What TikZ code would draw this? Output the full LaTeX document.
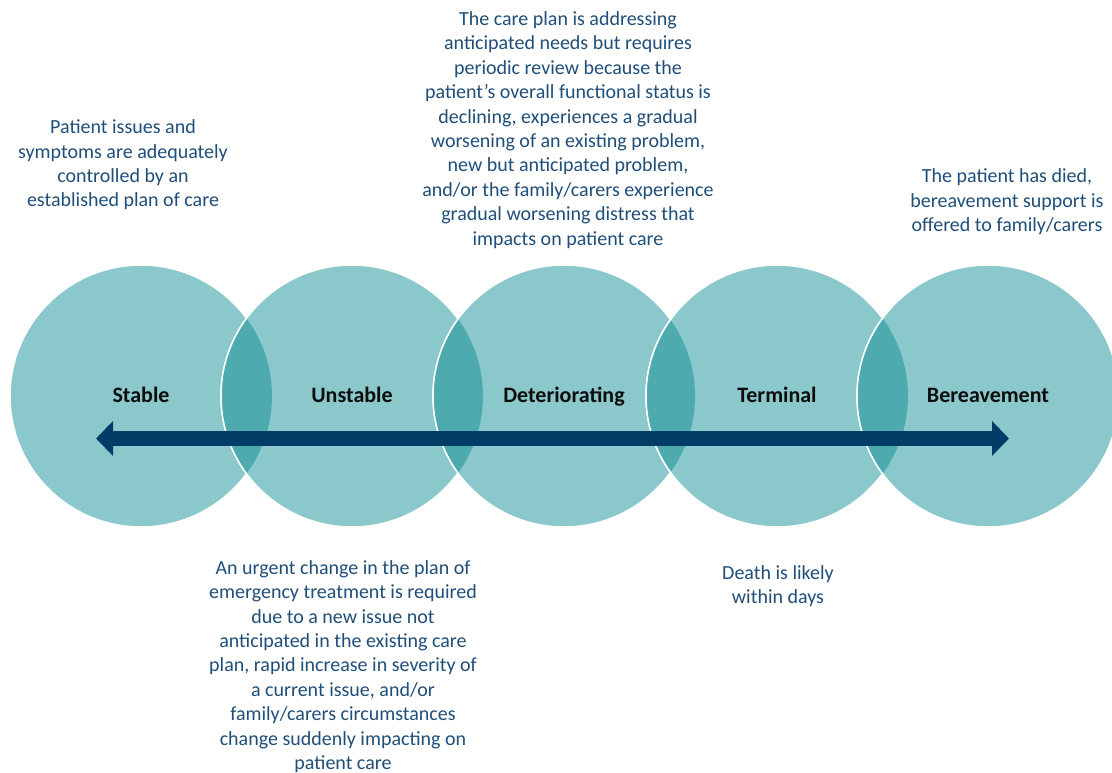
\documentclass[tikz,border=0pt]{standalone}
\usepackage{fontspec}
\setmainfont{Carlito}
\usetikzlibrary{arrows.meta}
\definecolor{phaselight}{HTML}{8BC8CB}
\definecolor{phasedark}{HTML}{4DAAAF}
\definecolor{arrownavy}{HTML}{023D67}
\definecolor{notetext}{HTML}{1F4E79}

\begin{document}
\begin{tikzpicture}[x=1pt, y=-1pt,
		phase/.style={circle,fill=phaselight,draw=white,line width=1.5pt,minimum size=262pt,inner sep=0pt,text=black!95,text height=16.5pt,text depth=3.5pt,font=\fontsize{22}{26}\selectfont\bfseries},
		overlap/.style={fill=phasedark},
		rim/.style={draw=white,line width=1.5pt},
		note/.style={align=center,text=notetext,inner sep=0pt,font=\fontsize{20}{24.4}\selectfont},
		timeline/.style={arrownavy,line width=15pt,{Triangle[length=17pt,width=34pt]}-{Triangle[length=17pt,width=34pt]}}
		]
	\useasboundingbox (0,0) rectangle (1112,773);
	% the five phases
	\node [phase] (stable) at (141,396) {Stable};
	\node [phase] (unstable) at (352,396) {Unstable};
	\node [phase] (deteriorating) at (564,396) {Deteriorating};
	\node [phase] (terminal) at (777,396) {Terminal};
	\node [phase] (bereavement) at (988,396) {Bereavement};
	% overlaps
	\begin{scope}
		\clip (stable.center) circle [radius=131pt];
		\fill [overlap] (unstable.center) circle [radius=131pt];
		\draw [rim] (unstable.center) circle [radius=131pt];
	\end{scope}
	\begin{scope}
		\clip (unstable.center) circle [radius=131pt];
		\fill [overlap] (deteriorating.center) circle [radius=131pt];
		\draw [rim] (deteriorating.center) circle [radius=131pt];
	\end{scope}
	\begin{scope}
		\clip (deteriorating.center) circle [radius=131pt];
		\fill [overlap] (terminal.center) circle [radius=131pt];
		\draw [rim] (terminal.center) circle [radius=131pt];
	\end{scope}
	\begin{scope}
		\clip (terminal.center) circle [radius=131pt];
		\fill [overlap] (bereavement.center) circle [radius=131pt];
		\draw [rim] (bereavement.center) circle [radius=131pt];
	\end{scope}
	% timeline arrow
	\coordinate (past) at (96,438.5);
	\coordinate (future) at (1009,438.5);
	\draw [timeline] (past) -- (future);
	% descriptions
	\node [note] (stablenote) at (123,165) {Patient issues and\\symptoms are adequately\\controlled by an\\established plan of care};
	\node [note] (deterioratingnote) at (568,130) {The care plan is addressing\\anticipated needs but requires\\periodic review because the\\patient’s overall functional status is\\declining, experiences a gradual\\worsening of an existing problem,\\new but anticipated problem,\\and/or the family/carers experience\\gradual worsening distress that\\impacts on patient care};
	\node [note] (bereavementnote) at (1007,202) {The patient has died,\\bereavement support is\\offered to family/carers};
	\node [note] (unstablenote) at (343,666.5) {An urgent change in the plan of\\emergency treatment is required\\due to a new issue not\\anticipated in the existing care\\plan, rapid increase in severity of\\a current issue, and/or\\family/carers circumstances\\change suddenly impacting on\\patient care};
	\node [note] (terminalnote) at (778,586) {Death is likely\\within days};
\end{tikzpicture}
\end{document}
